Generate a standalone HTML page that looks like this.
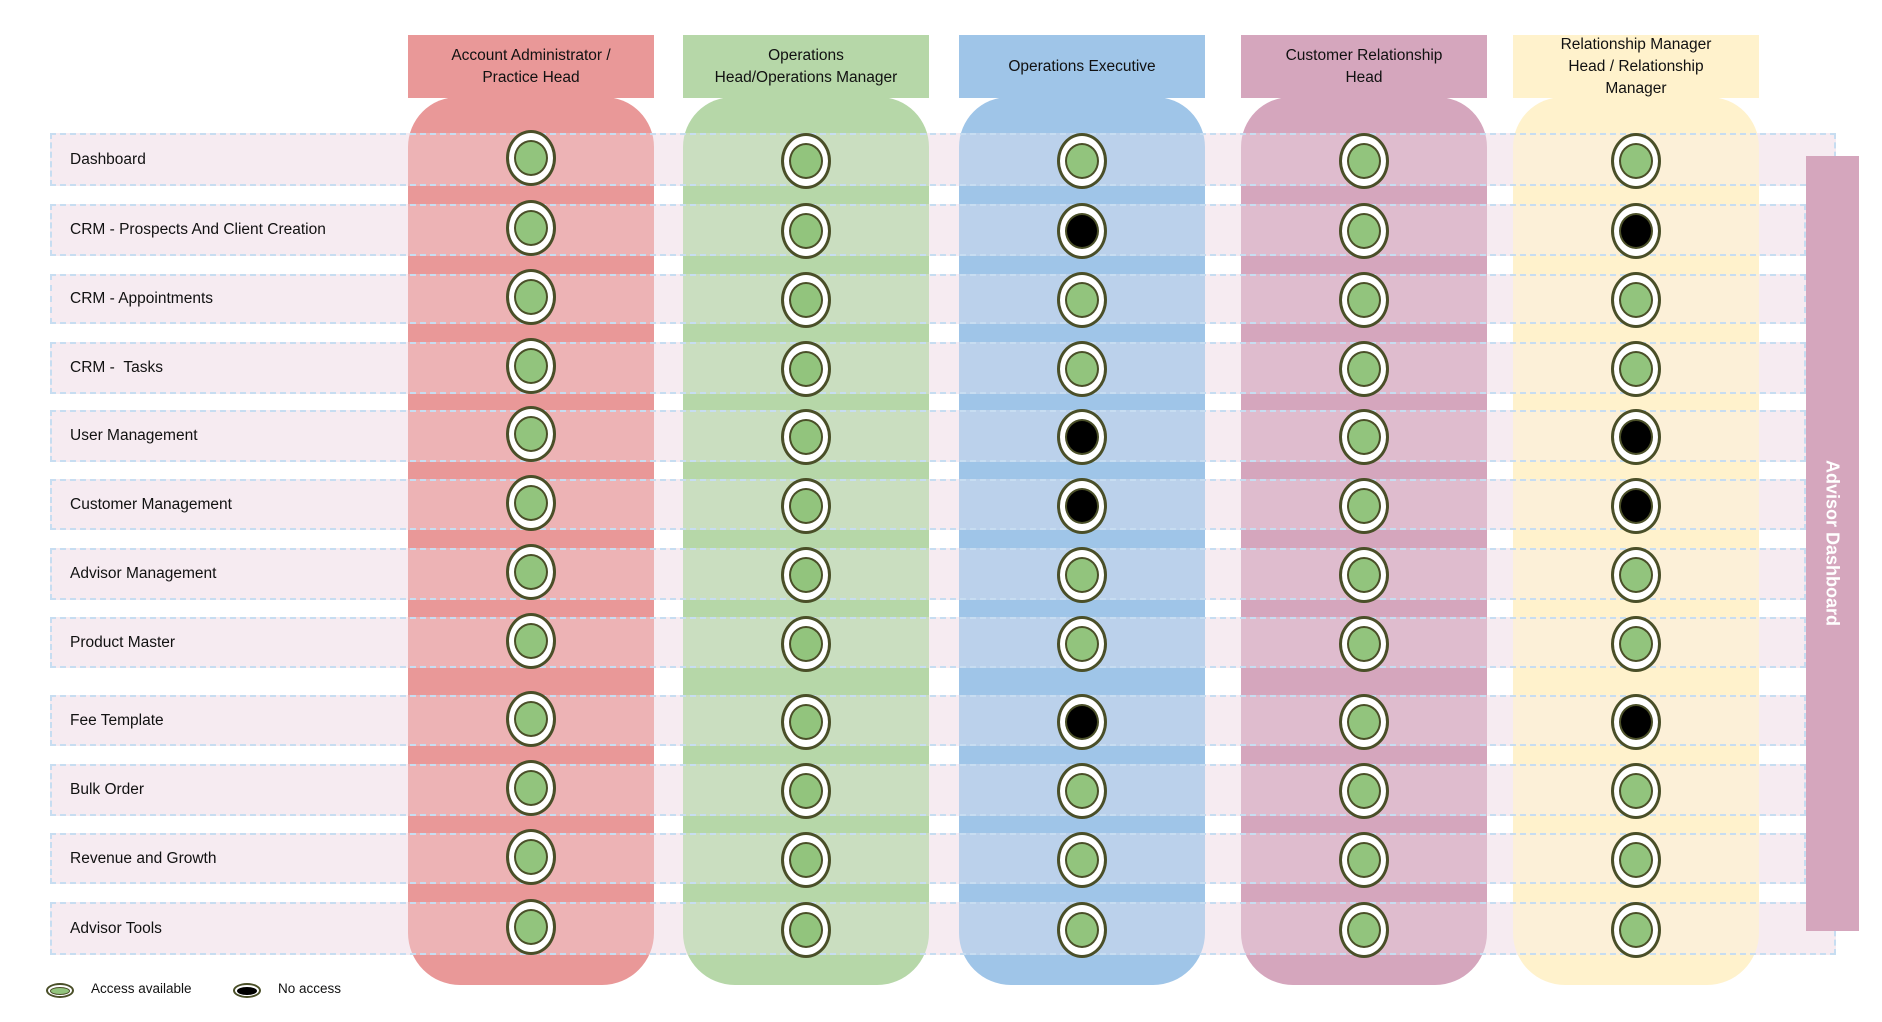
<!DOCTYPE html>
<html><head><meta charset="utf-8"><style>
body{margin:0;width:1882px;height:1022px;background:#fff;position:relative;overflow:hidden;font-family:"Liberation Sans",sans-serif;color:#111}
.a{position:absolute}
.hdr{position:absolute;top:35px;height:63px;width:246px;display:flex;align-items:center;justify-content:center;text-align:center;font-size:15.5px;line-height:22px}
.body{position:absolute;top:97px;height:888px;width:246px;border-radius:50px 50px 52px 52px}
.rowb{position:absolute;left:50px;background:#f6ebf1;border:2px dashed #c7ddf1;box-sizing:border-box}
.rowo{position:absolute;left:50px;background:rgba(246,236,242,0.32);border:2px dashed #c7ddf1;box-sizing:border-box}
.lbl{position:absolute;left:70px;font-size:15.5px;display:flex;align-items:center}
.c{position:absolute;width:44px;height:50px;border:3px solid #4a4f28;border-radius:50%;background:#fff}
.c i{position:absolute;left:5px;top:7px;width:30px;height:32px;border:2.5px solid #4a4f28;border-radius:50%;background:#92c47d;box-sizing:content-box}
.c.n i{background:#000}
</style></head><body>
<div id="rows"></div>
<div class="body" style="left:408px;background:#e99898"></div>
<div class="body" style="left:683px;background:#b6d7a8"></div>
<div class="body" style="left:959px;background:#9fc5e8"></div>
<div class="body" style="left:1241px;background:#d5a6bd"></div>
<div class="body" style="left:1513px;background:#fff2cc"></div>
<div class="hdr" style="left:408px;background:#e99898">Account Administrator /<br>Practice Head</div>
<div class="hdr" style="left:683px;background:#b6d7a8">Operations<br>Head/Operations Manager</div>
<div class="hdr" style="left:959px;background:#9fc5e8">Operations Executive</div>
<div class="hdr" style="left:1241px;background:#d5a6bd">Customer Relationship<br>Head</div>
<div class="hdr" style="left:1513px;background:#fff2cc">Relationship Manager<br>Head / Relationship<br>Manager</div>
<div id="ov"></div>
<div class="a" style="left:1806px;top:156px;width:53px;height:775px;background:#d5a6bd"></div>
<div class="a" style="left:1832px;top:543px;transform:translate(-50%,-50%) rotate(90deg);color:#fff;font-weight:bold;font-size:18px;white-space:nowrap">Advisor Dashboard</div>
<div id="dots"></div>
<div class="a" style="left:46px;top:983px;width:24px;height:11px;border:2.5px solid #4a4f28;border-radius:50%;background:#fff"><div class="a" style="left:2px;top:1.5px;width:20px;height:8px;border-radius:50%;background:#92c47d;border:0.5px solid #4a4f28;box-sizing:border-box"></div></div>
<div class="a" style="left:91px;top:981px;font-size:13.5px">Access available</div>
<div class="a" style="left:233px;top:983px;width:24px;height:11px;border:2.5px solid #4a4f28;border-radius:50%;background:#fff"><div class="a" style="left:2px;top:1.5px;width:20px;height:8px;border-radius:50%;background:#000"></div></div>
<div class="a" style="left:278px;top:981px;font-size:13.5px">No access</div>
<script>
var rows=[["Dashboard",133,186],["CRM - Prospects And Client Creation",204,256],["CRM - Appointments",274,324],["CRM -  Tasks",342,394],["User Management",410,462],["Customer Management",479,530],["Advisor Management",548,600],["Product Master",617,668],["Fee Template",695,746],["Bulk Order",764,816],["Revenue and Growth",833,884],["Advisor Tools",902,955]];
var cx=[531,806,1082,1364,1636];
var no={1:1,4:1,5:1,8:1};
var R="",O="",D="";
rows.forEach(function(r,i){
 var w=(i==0||i==11)?1836-50:1806-50;
 var st='top:'+r[1]+'px;height:'+(r[2]-r[1])+'px;width:'+w+'px';
 R+='<div class="rowb" style="'+st+'"></div>';
 O+='<div class="rowo" style="'+st+'"></div><div class="lbl" style="top:'+r[1]+'px;height:'+(r[2]-r[1])+'px">'+r[0].replace(/  /g,' &nbsp;')+'</div>';
 var cy=(r[1]+r[2])/2;
 cx.forEach(function(x,j){
  var n=(j==2||j==4)&&no[i];
  D+='<div class="c'+(n?' n':'')+'" style="left:'+(x-25)+'px;top:'+(cy-28+(j==0?-2:1))+'px"><i></i></div>';
 });
});
document.getElementById('rows').innerHTML=R;
document.getElementById('ov').innerHTML=O;
document.getElementById('dots').innerHTML=D;
</script>
</body></html>
